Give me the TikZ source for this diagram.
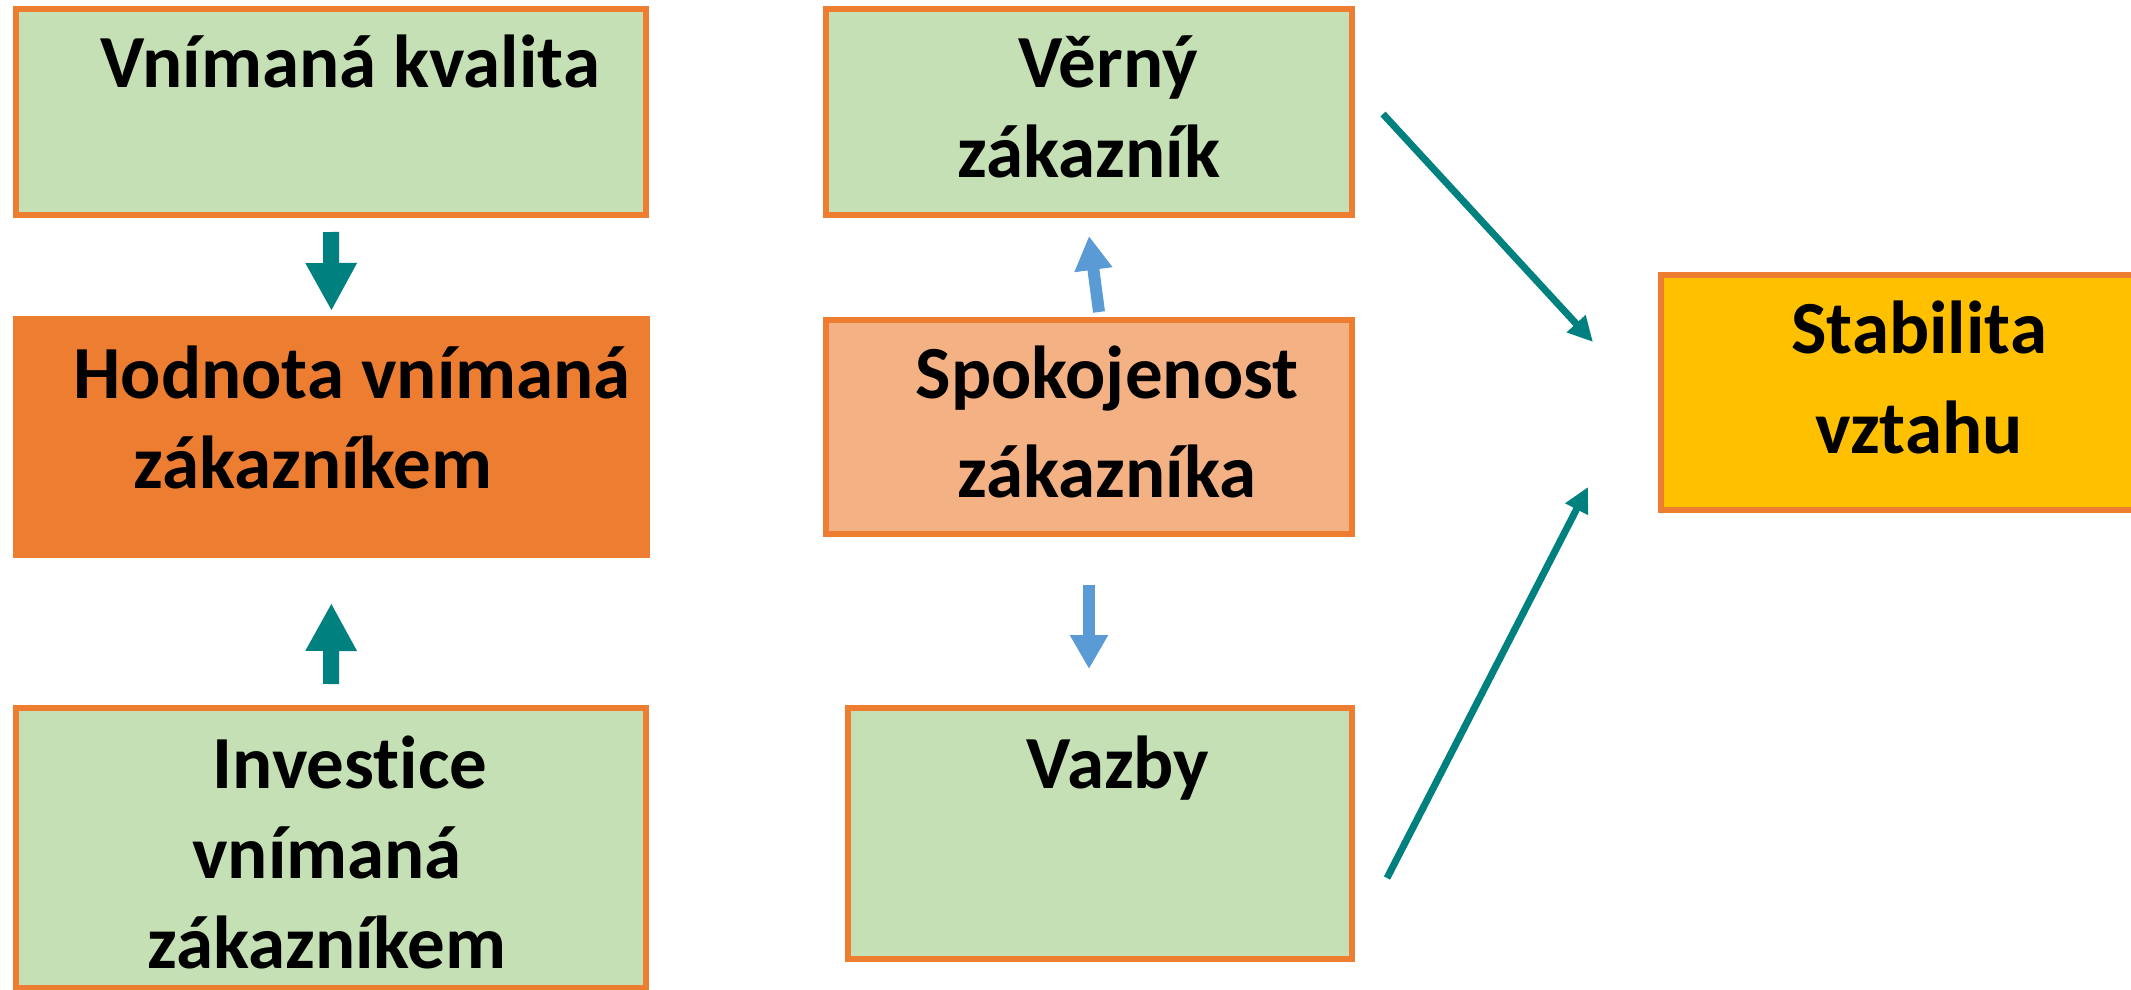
\documentclass[tikz,border=0pt]{standalone}
\usepackage{fontspec}
\setmainfont{Carlito}[Ligatures={NoCommon}]
\usetikzlibrary{arrows.meta}

\definecolor{boxgreen}{HTML}{C5E0B4}
\definecolor{boxorange}{HTML}{ED7D31}
\definecolor{boxpeach}{HTML}{F4B183}
\definecolor{boxgold}{HTML}{FFC000}
\definecolor{arrteal}{HTML}{00807F}
\definecolor{arrblue}{HTML}{5B9BD5}

\begin{document}
\begin{tikzpicture}[x=1pt, y=-1pt,
    box/.style={draw=boxorange, line width=6pt, inner sep=0pt},
    boxtext/.style={font=\bfseries\fontsize{75}{90}\selectfont, align=center, anchor=base, inner sep=0pt},
    tealblock/.style={arrteal, line width=16pt, -{Triangle[width=48pt, length=48pt]}},
    blueblock/.style={arrblue, line width=12pt, -{Triangle[width=36pt, length=34pt]}},
    tealline/.style={arrteal, line width=7pt, -{Triangle[width=24pt, length=25pt]}},
  ]

  \useasboundingbox (0,0) rectangle (2131,990);

  % Boxes
  \node[box, fill=boxgreen, minimum width=630pt, minimum height=206pt] (kvalita) at (331,112) {};
  \node[box, draw=boxorange, fill=boxorange, minimum width=631pt, minimum height=236pt] (hodnota) at (331.5,437) {};
  \node[box, fill=boxgreen, minimum width=630pt, minimum height=280pt] (investice) at (331,848) {};
  \node[box, fill=boxgreen, minimum width=526pt, minimum height=206pt] (verny) at (1089,112) {};
  \node[box, fill=boxpeach, minimum width=526pt, minimum height=214pt] (spokojenost) at (1089,427) {};
  \node[box, fill=boxgreen, minimum width=504pt, minimum height=251pt] (vazby) at (1100,833.5) {};
  \node[box, fill=boxgold, minimum width=476pt, minimum height=235pt] (stabilita) at (1899,392.5) {};

  % Texts (anchored at the baseline of the last line)
  \node[boxtext] (kvalita-t) at (350,88) {Vnímaná kvalita};
  \node[boxtext] (hodnota-t) at (352,488) {Hodnota vnímaná\\zákazníkem\kern78pt};
  \node[boxtext] (investice-t) at (327,968) {\kern46pt Investice\\vnímaná\\zákazníkem};
  \node[boxtext] (verny-t) at (1089,177) {\kern38pt Věrný\\zákazník};
  \node[boxtext] (spokojenost-t) at (1107,497) {Spokojenost\\[9pt]zákazníka};
  \node[boxtext] (vazby-t) at (1118,788) {Vazby};
  \node[boxtext] (stabilita-t) at (1919,453) {Stabilita\\[10pt]vztahu};

  % Block arrows
  \draw[tealblock, shorten <=14pt, shorten >=5pt] (kvalita.south) -- (hodnota.north);
  \draw[tealblock, shorten <=21pt, shorten >=45pt] (investice.north) -- (hodnota.south);
  \draw[blueblock] ([xshift=10pt, yshift=5pt]spokojenost.north) -- ([yshift=-18pt]verny.south);
  \draw[blueblock, shorten <=48pt, shorten >=36pt] (spokojenost.south) -- (spokojenost.south |- vazby.north);

  % Free ends of the long arrows
  \coordinate (verny-out) at (1383,114);
  \coordinate (stabilita-in1) at (1593,342);
  \coordinate (vazby-out) at (1387,878);
  \coordinate (stabilita-in2) at (1588,487);

  \draw[tealline] (verny-out) -- (stabilita-in1);
  \draw[tealline] (vazby-out) -- (stabilita-in2);
\end{tikzpicture}
\end{document}
